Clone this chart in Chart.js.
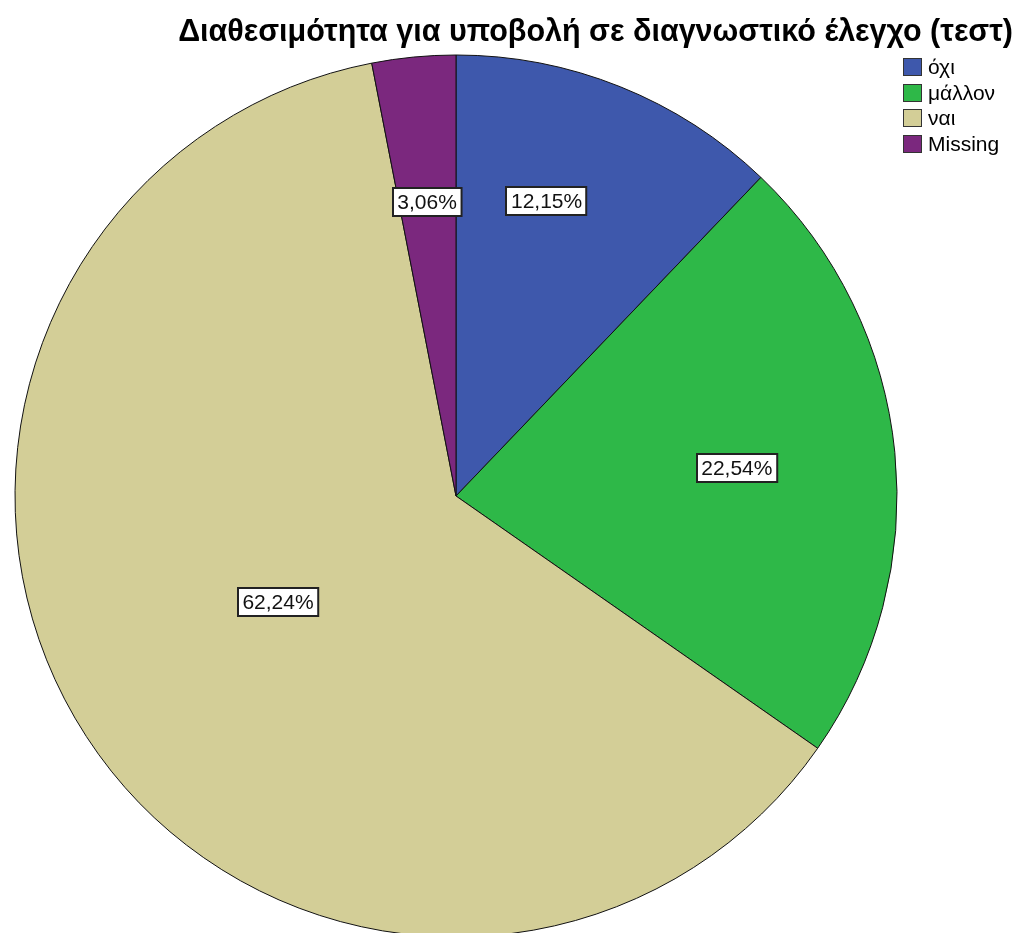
<!DOCTYPE html>
<html>
<head>
<meta charset="utf-8">
<script src="https://cdn.jsdelivr.net/npm/chart.js@4"></script>
<style>
    body { margin: 0; background: #fff; overflow: hidden; }
    #wrap { position: relative; width: 1018px; height: 960px; }
    #title {
        position: absolute; left: 0; right: 5px; top: 13px;
        text-align: right; font: bold 30.5px "Liberation Sans", Arial, sans-serif; color: #000;
        white-space: nowrap;
    }
    #legend {
        position: absolute; left: 903px; top: 58px;
        font: 21px "Liberation Sans", Arial, sans-serif; color: #000;
    }
    .item { height: 25.5px; display: flex; align-items: flex-start; }
    .swatch { width: 17px; height: 16px; border: 1px solid #333; margin-right: 6px; }
    .item span { line-height: 18px; }
    canvas { position: absolute; left: 0; top: 0; }
</style>
</head>
<body>
<div id="wrap">
    <canvas id="pieChart" width="1018" height="960"></canvas>
    <div id="title"></div>
    <div id="legend"></div>
</div>
<script>
// chart data
const chartTitle = 'Διαθεσιμότητα για υποβολή σε διαγνωστικό έλεγχο (τεστ)';
const categories = ['όχι', 'μάλλον', 'ναι', 'Missing'];
const percentages = [12.15, 22.54, 62.24, 3.06];
const percentLabels = ['12,15%', '22,54%', '62,24%', '3,06%'];

const sliceColors = ['#3e58ac', '#2eb848', '#d3ce97', '#7b287e'];
// where each label box sits: fraction along the slice angle, fraction of the radius
const labelPlace = [[0.39, 0.70], [0.50, 0.64], [0.51, 0.47], [0.49, 0.67]];

document.getElementById('title').textContent = chartTitle;

const legend = document.getElementById('legend');
categories.forEach((name, i) => {
    const row = document.createElement('div');
    row.className = 'item';
    row.innerHTML = `<div class="swatch" style="background:${sliceColors[i]}"></div><span>${name}</span>`;
    legend.appendChild(row);
});

// white boxed percentage labels inside the slices
const boxLabels = {
    id: 'boxLabels',
    afterDatasetsDraw(chart) {
        const ctx = chart.ctx;
        const arcs = chart.getDatasetMeta(0).data;
        ctx.save();
        ctx.font = '21px "Liberation Sans", Arial, sans-serif';
        ctx.textAlign = 'center';
        ctx.textBaseline = 'middle';
        arcs.forEach((arc, i) => {
            const p = arc.getProps(['x', 'y', 'startAngle', 'endAngle', 'outerRadius'], true);
            const a = p.startAngle + (p.endAngle - p.startAngle) * labelPlace[i][0];
            const r = p.outerRadius * labelPlace[i][1];
            const cx = p.x + Math.cos(a) * r;
            const cy = p.y + Math.sin(a) * r;
            const w = ctx.measureText(percentLabels[i]).width + 9;
            const h = 28;
            ctx.fillStyle = '#fff';
            ctx.fillRect(Math.round(cx - w / 2), Math.round(cy - h / 2), w, h);
            ctx.strokeStyle = '#222';
            ctx.lineWidth = 2;
            ctx.strokeRect(Math.round(cx - w / 2), Math.round(cy - h / 2), w, h);
            ctx.fillStyle = '#111';
            ctx.fillText(percentLabels[i], cx, cy + 1);
        });
        ctx.restore();
    }
};

new Chart(document.getElementById('pieChart'), {
    type: 'pie',
    data: {
        labels: categories,
        datasets: [{
            data: percentages,
            backgroundColor: sliceColors,
            borderColor: '#111',
            borderWidth: 1
        }]
    },
    options: {
        responsive: false,
        animation: false,
        radius: 441,
        layout: { padding: { left: 15, right: 121, top: 55, bottom: 23 } },
        plugins: {
            legend: { display: false },
            title: { display: false },
            tooltip: { enabled: false }
        }
    },
    plugins: [boxLabels]
});
</script>
</body>
</html>
